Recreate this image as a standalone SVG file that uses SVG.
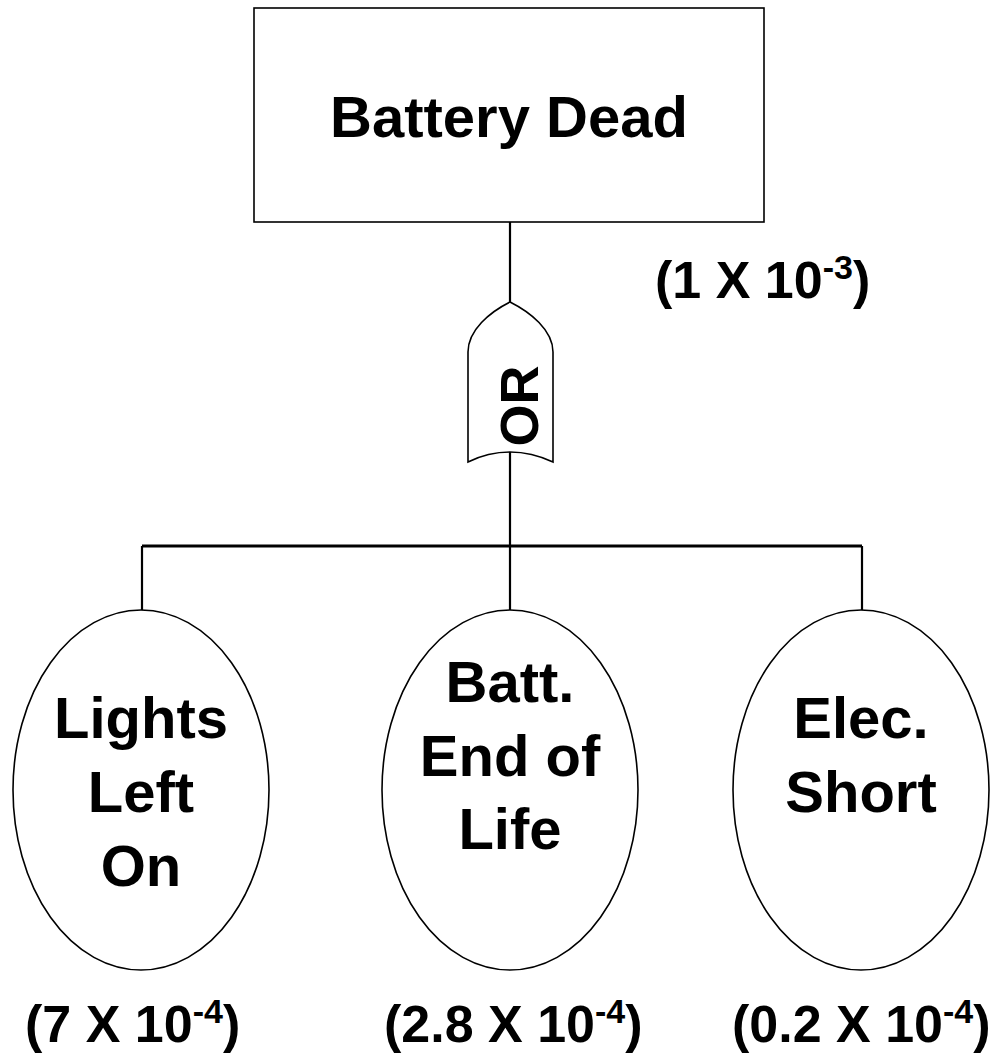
<svg xmlns="http://www.w3.org/2000/svg" width="997" height="1056" viewBox="0 0 997 1056">
<style>
.t{font-family:"Liberation Sans",Arial,sans-serif;font-weight:bold;fill:#000;text-anchor:middle}
.big{font-size:58px}
.p{font-family:"Liberation Sans",Arial,sans-serif;font-weight:bold;fill:#000;font-size:52px}
.shape{fill:#fff;stroke:#000;stroke-width:1.6}
.conn{stroke:#000;stroke-width:2.2;fill:none}
</style>
<rect width="997" height="1056" fill="#fff"/>
<g id="connectors">
<line class="conn" x1="510" y1="222" x2="510" y2="303"/>
<line class="conn" x1="510" y1="452" x2="510" y2="610"/>
<line class="conn" x1="142" y1="546" x2="862" y2="546" style="stroke-width:3"/>
<line class="conn" x1="142" y1="546" x2="142" y2="610"/>
<line class="conn" x1="862" y1="546" x2="862" y2="610"/>
</g>
<g id="top-event">
<rect class="shape" x="254" y="8" width="510" height="214"/>
<text class="t big" x="509" y="137">Battery Dead</text>
</g>
<g id="top-prob">
<text class="p" x="655" y="298">(1 X 10<tspan font-size="34" dy="-19">-3</tspan><tspan dy="19">)</tspan></text>
</g>
<g id="or-gate">
<path class="shape" d="M468,352 C468,330 490,312 510,302 C530,312 553,330 553,352 L553,462 C538,455 524,452 510,452 C496,452 482,455 468,462 Z"/>
<text class="t" font-size="54" transform="translate(538,406) rotate(-90)" x="0" y="0">OR</text>
</g>
<g id="lights-left-on">
<ellipse class="shape" cx="141" cy="790" rx="128" ry="180"/>
<text class="t big" x="141" y="738">Lights</text>
<text class="t big" x="141" y="812">Left</text>
<text class="t big" x="141" y="886">On</text>
</g>
<g id="batt-end-of-life">
<ellipse class="shape" cx="510" cy="790" rx="128" ry="180"/>
<text class="t big" x="510" y="702">Batt.</text>
<text class="t big" x="510" y="776">End of</text>
<text class="t big" x="510" y="849">Life</text>
</g>
<g id="elec-short">
<ellipse class="shape" cx="861" cy="790" rx="128" ry="180"/>
<text class="t big" x="861" y="738">Elec.</text>
<text class="t big" x="861" y="812">Short</text>
</g>
<g id="probs">
<text class="p" x="25" y="1042">(7 X 10<tspan font-size="34" dy="-19">-4</tspan><tspan dy="19">)</tspan></text>
<text class="p" x="384" y="1042">(2.8 X 10<tspan font-size="34" dy="-19">-4</tspan><tspan dy="19">)</tspan></text>
<text class="p" x="732" y="1042">(0.2 X 10<tspan font-size="34" dy="-19">-4</tspan><tspan dy="19">)</tspan></text>
</g>
</svg>
